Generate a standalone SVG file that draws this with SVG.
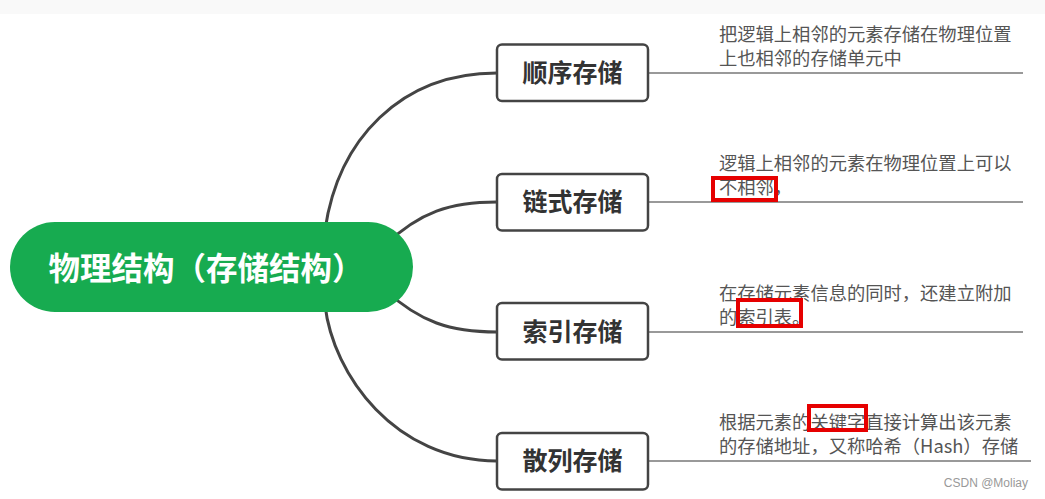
<svg xmlns="http://www.w3.org/2000/svg" width="1045" height="499" viewBox="0 0 1045 499">
<style>
.conn{fill:none;stroke:#444;stroke-width:3;stroke-linecap:round}
.hline{fill:none;stroke:#777;stroke-width:1.6}
.box{fill:#fff;stroke:#444;stroke-width:2.5}
.btxt{font-family:"Noto Sans CJK SC","Noto Sans",sans-serif;font-weight:bold;font-size:25px;fill:#333;text-anchor:middle}
.desc{font-family:"Noto Sans CJK SC","Noto Sans",sans-serif;font-size:18.3px;fill:#555}
.hl{fill:none;stroke:#e60000;stroke-width:4}
</style>
<rect width="1045" height="499" fill="#fff"/>
<rect width="1045" height="14" fill="#f9f9f9"/>
<g id="connectors">
<path class="conn" d="M325,230 C338,140 400,73 497,73"/>
<path class="conn" d="M385,245 C420,212 450,202 497,202"/>
<path class="conn" d="M385,290 C420,322 450,332 497,332"/>
<path class="conn" d="M325,305 C333,375 395,461 497,461"/>
<path class="hline" d="M648,73 H1023"/>
<path class="hline" d="M648,202 H1023"/>
<path class="hline" d="M648,332 H1023"/>
<path class="hline" d="M648,461 H1031"/>
</g>
<g id="root">
<rect x="10" y="222" width="403" height="90" rx="45" fill="#17ab50"/>
<text x="206" y="280" font-family="'Noto Sans CJK SC','Noto Sans',sans-serif" font-weight="bold" font-size="31.5" fill="#fff" text-anchor="middle">物理结构（存储结构）</text>
</g>
<g id="n1">
<rect class="box" x="497" y="44.5" width="151" height="56.5" rx="5"/>
<text class="btxt" x="572.5" y="82">顺序存储</text>
<text class="desc" x="719" y="41">把逻辑上相邻的元素存储在物理位置</text>
<text class="desc" x="719" y="65">上也相邻的存储单元中</text>
</g>
<g id="n2">
<rect class="box" x="497" y="174" width="151" height="56.5" rx="5"/>
<text class="btxt" x="572.5" y="211">链式存储</text>
<text class="desc" x="719" y="170">逻辑上相邻的元素在物理位置上可以</text>
<text class="desc" x="719" y="194">不相邻，</text>
<rect class="hl" x="713" y="178" width="63" height="22"/>
</g>
<g id="n3">
<rect class="box" x="497" y="303" width="151" height="56.5" rx="5"/>
<text class="btxt" x="572.5" y="341">索引存储</text>
<text class="desc" x="719" y="300">在存储元素信息的同时，还建立附加</text>
<text class="desc" x="719" y="324">的索引表。</text>
<rect class="hl" x="738" y="300" width="63" height="26"/>
</g>
<g id="n4">
<rect class="box" x="497" y="433" width="151" height="56.5" rx="5"/>
<text class="btxt" x="572.5" y="470">散列存储</text>
<text class="desc" x="719" y="429">根据元素的关键字直接计算出该元素</text>
<text class="desc" x="719" y="453">的存储地址，又称哈希（Hash）存储</text>
<rect class="hl" x="809" y="406" width="57" height="24"/>
</g>
<text x="1028" y="487" font-family="'Liberation Sans',Arial,sans-serif" font-size="12" fill="#999" text-anchor="end">CSDN @Moliay</text>
</svg>
